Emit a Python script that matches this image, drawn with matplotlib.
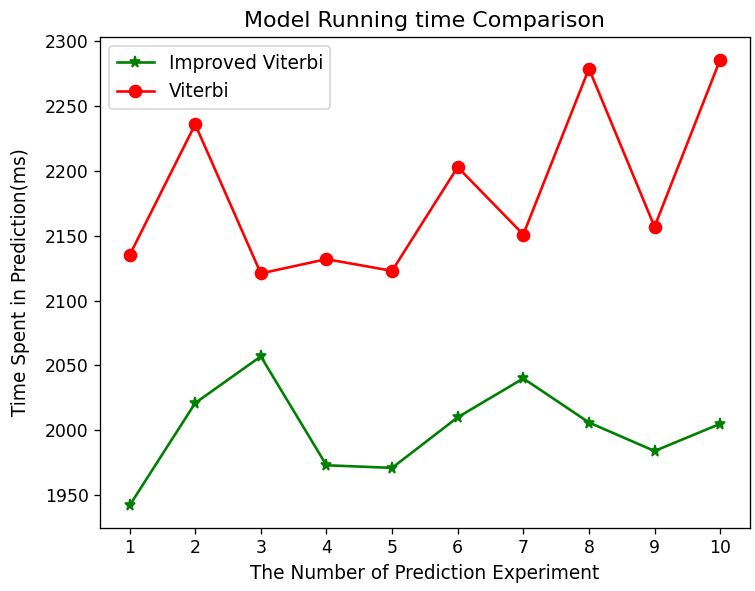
import matplotlib.pyplot as plt

# experiment number vs prediction time (ms)
experiments = [1, 2, 3, 4, 5, 6, 7, 8, 9, 10]
improved_viterbi = [1942, 2021, 2057, 1973, 1971, 2010, 2040, 2006, 1984, 2005]
viterbi = [2135, 2236, 2121, 2132, 2123, 2203, 2151, 2279, 2157, 2286]

dpi = 118
fig, ax = plt.subplots(figsize=(755 / dpi, 591 / dpi), dpi=dpi)
fig.subplots_adjust(left=0.1325, right=0.993, top=0.937, bottom=0.107)

ax.plot(experiments, improved_viterbi, color='green', marker='*', markersize=7,
        linewidth=1.6, label='Improved Viterbi')
ax.plot(experiments, viterbi, color='red', marker='o', markersize=7.3,
        linewidth=1.6, label='Viterbi')

ax.set_xticks(experiments)
ax.tick_params(labelsize=10.5)
ax.set_title('Model Running time Comparison', fontsize=13.5)
ax.set_xlabel('The Number of Prediction Experiment', fontsize=11.3)
ax.set_ylabel('Time Spent in Prediction(ms)', fontsize=11.3, labelpad=9)
ax.legend(loc='upper left', fontsize=11.3)

fig.savefig('out.png', dpi=dpi)
